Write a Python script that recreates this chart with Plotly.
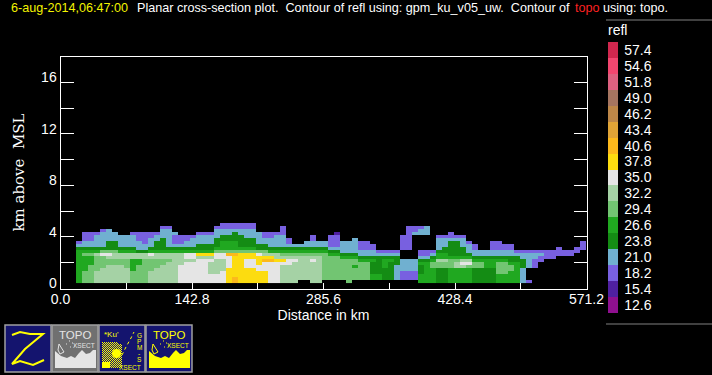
import plotly.graph_objects as go

# ---------- data: reflectivity cross-section ----------
LEVELS = [12.6, 15.4, 18.2, 21.0, 23.8, 26.6, 29.4, 32.2, 35.0, 37.8, 40.6, 43.4, 46.2, 49.0, 51.8, 54.6, 57.4]
COLORS = ["#8f108f", "#4f20a0", "#7860e0", "#70b0d0", "#148c14", "#20a820", "#72c572", "#a5d2a5", "#e5e5e5",
          "#fcdc10", "#fcb91c", "#e0a436", "#bd8748", "#a57560", "#dd6180", "#f2466f", "#d0274e"]
CODE = {"M": 15.4, "v": 18.2, "b": 21.0, "d": 23.8, "g": 26.6, "l": 29.4, "a": 32.2, "w": 35.0, "y": 37.8, "o": 40.6}
# one string per distance column, highest height first
COLUMNS = [
    ".......vbdggggggggggg", "....vvvbbdglgggggllll", "....vvvbbdglgggllllll", "....vbbbbdgalllllaaaa",
    "...vbbbbbdlwllllaaaaa", "...bbbbdddlwallaaaaaa", "....bbbdddlaallaaaaaa", ".....bbbbdgaallaaaaaa",
    ".....bbbbdgaalllaaaaa", "....vbbbbdgaaggggllll", "....vvvbbbdaaggllllll", "....vvvvbbdaallllllll",
    "....vvbbbdgwallllaaaa", "....vbbdddgaalllaaaaa", "..vbbbddddgaallaaaaaa", "..vbbbbbbdgaalaaaaaaa",
    "....bvvvbdgaaaaaaaaaa", ".....vvvbdgaaaawwwwww", ".....vvbbdgwwawwwwwww",
    ".....vbbbdgwwawwwwwww", "....vbbbddgyawwwwwwww", "....vbbbddgyawwwwwwww", "....vbbbddgyawaaaawww",
    "..vbbbdddglwwaaaaawww", ".vvbbddggglwwaaaawwww", ".vvbbddggglowwwwyyyyy", ".vvbdddgggloyyyyyyyoo",
    ".vvbbddddglyyyyyyyyyy", ".vvbbbdddglyywwwyyyyy", ".vvbbbdddglyywwwyyyyy", "....bbbbddlwyyywwyyyy",
    "....vvbbddlayowwwyyyy", "....vvbbbdgayowwwwwww", "....vbbbbdgaaywwwwwww", "..vvvbbbbdglaywaaaaaa",
    "......vvbdglawwaaaaaa", "........bdglawaaaaaaa", "........bdglaaaaaaaa.", ".......bbdglaaaaaaaa.",
    ".....vvbbdglawaaaaaaa", ".......bbdglaaaaaaaaa", ".......bbdglllllllll.", ".....vvvvbdgllllllll.",
    "....Mvvvvbdgllllllll.", ".......bbbbdglllllll.", ".......bbbbdgllllllll", "......bbbbbdgllgllll.",
    ".......vvvbbdgllllll.", ".......vvvbbdgllllll.", "........vvbbdgddddgg.", "..........vbddddddgg.",
    "..........vbdgggdddd.", "..........vbdgdddddd.", "..........vbdddbbbbb.", ".....vvvvv...bbbbvvv.",
    "..vvvvvvvv...bbbbvvv.", "..vvb........bbbbvvv.", "..vbb.....vvbdgdddggg", "..bbb.....vvbdggggggg",
    "..........vbdgllggggg", ".....vbbbbdggallddddd", ".....vbbbddggallddddd", "....vvbdddddglllggggg",
    ".....vbdddddglaaggggg", ".....vbbbdddgawaggggg", ".......vbbbdgawlggggg", "........vvbbdgllddddd",
    "..........bbdglldddddd"[:21], "..........bbdgggddddd", ".......vvvbbdgggddddd", ".......vvvbbdgllllggg",
    "........vvbbdgllllggg", "........vvbbddgllgggg", "..........vbddggggggg", "..........vbbdddbbbbb",
    "..........vbbbbb....v", "..........vbbvvv.....", "..........vbvv.......", "..........vvv........",
    "..........vvv........", ".........vvv.........", "..........vv.........", "..........vv.........",
    ".........vv..........", ".......vvv..........."]
X_TICKS = [0.0, 71.4, 142.8, 214.2, 285.6, 357.0, 428.4, 499.8, 571.2]
X_LABELS = ["0.0", "", "142.8", "", "285.6", "", "428.4", "", "571.2"]
Y_TICKS = [0, 2, 4, 6, 8, 10, 12, 14, 16]
Y_LABELS = ["0", "", "4", "", "8", "", "12", "", "16"]

# ---------- geometry helpers ----------
W, H = 712, 375
def px(x): return x / W
def py(y): return 1 - y / H

rows = len(COLUMNS[0])
assert all(len(c) == rows for c in COLUMNS)
z = [[CODE.get(col[rows - 1 - r]) for col in COLUMNS] for r in range(rows)]

step = 2.8
zmin, zmax = LEVELS[0] - step / 2, LEVELS[-1] + step / 2
scale = []
for i, c in enumerate(COLORS):
    scale += [[i / len(COLORS), c], [(i + 1) / len(COLORS), c]]

fig = go.Figure(go.Heatmap(
    z=z, x0=20.1, dx=6.516, y0=0.54, dy=0.2327,
    zmin=zmin, zmax=zmax, colorscale=scale, hoverongaps=False, zsmooth=False,
    colorbar=dict(
        x=px(608), xanchor="left", xpad=0, y=py(21), yanchor="top", ypad=0,
        thickness=10, thicknessmode="pixels", len=292, lenmode="pixels",
        outlinewidth=0, tickmode="array", tickvals=LEVELS,
        ticktext=[f"{v:.1f}" for v in LEVELS], ticks="outside", ticklen=4, tickcolor="black",
        tickfont=dict(family="Liberation Sans", size=14, color="white"),
        title=dict(text="refl", side="top", font=dict(family="Liberation Sans", size=14, color="white")),
    ),
))

shapes, anns = [], []

def path(points, **kw):
    d = "M" + "L".join(f"{px(x):.5f},{py(y):.5f}" for x, y in points)
    shapes.append(dict(type="path", path=d + kw.pop("end", ""), xref="paper", yref="paper", **kw))

def text(x, y, s, color="white", size=12, family="Liberation Sans", anchor="left", **kw):
    anns.append(dict(x=px(x), y=py(y), xref="paper", yref="paper", text=s, showarrow=False,
                     xanchor=anchor, yanchor="middle", borderpad=0,
                     font=dict(family=family, size=size, color=color), **kw))

def box(x0, x1, fill):
    shapes.append(dict(type="rect", xref="paper", yref="paper", x0=px(x0), x1=px(x1), y0=py(372), y1=py(325),
                       fillcolor=fill, line=dict(color="#a0a0a0", width=1.5)))

# ---------- heading ----------
text(10, 8, "6-aug-2014,06:47:00", "#f4f400", 12.6)
text(136, 8, "Planar cross-section plot.  Contour of refl using: gpm_ku_v05_uw.  Contour of", "white", 12.6)
text(574, 8, "topo", "#ff2020", 12.6)
text(602, 8, "using: topo.", "white", 12.6)

# separators on the right
for yy in (20, 324):
    shapes.append(dict(type="line", xref="paper", yref="paper", x0=px(606), x1=1, y0=py(yy), y1=py(yy),
                       line=dict(color="#808080", width=1)))

# ---------- button icons ----------
NAVY, YEL = "#14146e", "#ffff00"
box(5, 51, NAVY)
box(52, 98, "#707070")
box(99, 145, NAVY)
box(146, 192, NAVY)

# Z glyph
path([(12, 335), (20, 332), (30, 334), (43, 334), (25, 349), (12, 364), (20, 361), (33, 365), (44, 360)],
     line=dict(color=YEL, width=2))

TERRAIN = [(0, 368), (0, 351), (6, 356), (12, 358), (16, 356), (20, 358), (24, 353), (27, 350), (31, 354), (35, 353),
           (38, 350), (41, 350), (41, 368)]
def topo(x0, color):
    text(x0 + 23, 335, "TOPO", color, 11.5, anchor="center")
    text(x0 + 32, 345, "XSECT", color, 6.5, anchor="center")
    path([(x0 + 3 + a, b) for a, b in TERRAIN], end="Z", fillcolor=color, line=dict(width=0))
    path([(x0 + 7, 344), (x0 + 12, 352), (x0 + 8, 354), (x0 + 6, 350)], end="Z", fillcolor=NAVY if color == YEL else "#707070",
         line=dict(color=color, width=1))
    for a, b in [(14, 344), (17, 341), (20, 343), (18, 347), (22, 346)]:
        path([(x0 + a, b), (x0 + a + 1, b)], line=dict(color=color, width=1))
topo(52, "#e4e4e4")
topo(146, YEL)

# GPM icon
sq = ""
for cx in range(102, 121, 2):
    for cy in range(342, 368, 2):
        if (cx - 102) ** 2 + (368 - cy) ** 2 < 21 ** 2 + 26 ** 2 - 200:
            sq += f"M{px(cx):.5f},{py(cy):.5f}L{px(cx+1):.5f},{py(cy):.5f}L{px(cx+1):.5f},{py(cy+1):.5f}L{px(cx):.5f},{py(cy+1):.5f}Z"
            sq += f"M{px(cx+1):.5f},{py(cy+1):.5f}L{px(cx+2):.5f},{py(cy+1):.5f}L{px(cx+2):.5f},{py(cy+2):.5f}L{px(cx+1):.5f},{py(cy+2):.5f}Z"
shapes.append(dict(type="path", path=sq, xref="paper", yref="paper", fillcolor=YEL, line=dict(width=0)))
shapes.append(dict(type="rect", xref="paper", yref="paper", x0=px(102), x1=px(110), y0=py(368), y1=py(362), fillcolor=YEL, line=dict(width=0)))
shapes.append(dict(type="circle", xref="paper", yref="paper", x0=px(112), x1=px(121), y0=py(358), y1=py(349), fillcolor=YEL, line=dict(width=0)))
text(111, 334, "*Ku'", YEL, 8, "Liberation Sans", anchor="center")
for i, ch in enumerate("GPM-S"):
    text(139, 335 + i * 6.2, ch, YEL, 6.5, "Liberation Sans", anchor="center")
text(130, 367, "XSECT", YEL, 6.5, anchor="center")
path([(122, 355), (126, 347), (131, 338), (134, 332)], line=dict(color=YEL, width=1, dash="dot"))

fig.update_layout(
    width=W, height=H, autosize=False, margin=dict(l=0, r=0, t=0, b=0, pad=0, autoexpand=False),
    paper_bgcolor="black", plot_bgcolor="black", showlegend=False,
    shapes=shapes, annotations=anns,
    xaxis=dict(
        domain=[px(60.5), px(586.5)], range=[0, 571.2], tickmode="array", tickvals=X_TICKS, ticktext=X_LABELS,
        ticks="inside", ticklen=6, tickwidth=1, tickcolor="white", showgrid=False, zeroline=False,
        showline=True, linecolor="white", linewidth=1, mirror=True, ticklabelstandoff=-2,
        tickfont=dict(family="Liberation Sans", size=14, color="white"),
        title=dict(text="Distance in km", font=dict(family="Liberation Sans", size=14, color="white"), standoff=3),
    ),
    yaxis=dict(
        domain=[py(288.5), py(56.5)], range=[0, 18], tickmode="array", tickvals=Y_TICKS, ticktext=Y_LABELS,
        ticks="inside", ticklen=13, tickwidth=1, tickcolor="white", showgrid=False, zeroline=False,
        showline=True, linecolor="white", linewidth=1, mirror="ticks", ticklabelshift=-5,
        tickfont=dict(family="Liberation Sans", size=14, color="white"),
        title=dict(text="km above  MSL", font=dict(family="DejaVu Serif", size=15, color="white"), standoff=12),
    ),
)
fig.write_html("out.html", config=dict(displayModeBar=False),
               post_script="document.body.style.margin='0';document.body.style.background='black';document.body.style.overflow='hidden';")
